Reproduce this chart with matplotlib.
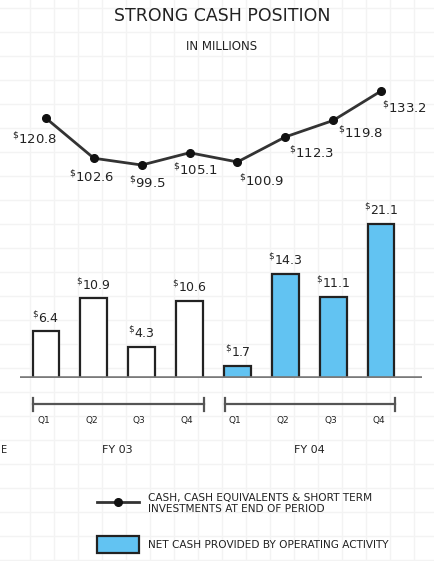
import numpy as np
import matplotlib.pyplot as plt

# values (millions of dollars)
quarters = ['Q1', 'Q2', 'Q3', 'Q4', 'Q1', 'Q2', 'Q3', 'Q4']
years = ['FY 03', 'FY 04']
cash_position = [120.8, 102.6, 99.5, 105.1, 100.9, 112.3, 119.8, 133.2]
operating_cash = [6.4, 10.9, 4.3, 10.6, 1.7, 14.3, 11.1, 21.1]
legend_labels = ['CASH, CASH EQUIVALENTS & SHORT TERM\nINVESTMENTS AT END OF PERIOD',
                 'NET CASH PROVIDED BY OPERATING ACTIVITY']

W, H = 435, 561
INK = '#222222'
BLUE = '#62c3f2'


def fx(px):
    return px / W


def fy(px):
    return 1 - px / H


def rect(left, top, right, bottom):
    return [fx(left), fy(bottom), fx(right) - fx(left), fy(top) - fy(bottom)]


fig = plt.figure(figsize=(W / 100, H / 100), dpi=100)
x = np.arange(len(quarters))
xlim = (-0.55, 7.85)

# graph paper background
bg = fig.add_axes([0, 0, 1, 1], zorder=-5)
bg.set_xlim(0, W)
bg.set_ylim(H, 0)
bg.set_xticks(np.arange(30, W, 24))
bg.set_yticks(np.arange(8, H, 24))
bg.grid(True, color='#f3f3f3', lw=1.0)
bg.tick_params(length=0, labelbottom=False, labelleft=False)
for s in bg.spines.values():
    s.set_visible(False)

fig.text(0.51, fy(16), 'STRONG CASH POSITION', ha='center', va='center',
         fontsize=12.5, color=INK)
fig.text(0.51, fy(47), 'IN MILLIONS', ha='center', va='center',
         fontsize=8.5, color=INK)

# line chart: cash position
ax_line = fig.add_axes(rect(19.7, 76.1, 421.7, 185.9))
ax_line.patch.set_visible(False)
line, = ax_line.plot(x, cash_position, color='#333333', lw=2,
                     marker='o', ms=5.5, mfc='#111111', mec='#111111')
ax_line.set_xlim(*xlim)
ax_line.set_ylim(90, 140)
ax_line.axis('off')

line_offsets = [(-12, -21), (-2, -19), (6, -18), (6, -17),
                (24, -19), (26, -16), (27, -13), (23, -17)]
for xi, v, (dx, dy) in zip(x, cash_position, line_offsets):
    ax_line.annotate(r'$^{\$}$' + f'{v:.1f}', (xi, v),
                     xytext=(dx * 0.72, dy * 0.72), textcoords='offset points',
                     ha='center', va='center', fontsize=9.5, color=INK)

# bar chart: operating cash
ax_bar = fig.add_axes(rect(19.7, 217.4, 421.7, 378))
ax_bar.patch.set_visible(False)
colors = ['white'] * 4 + [BLUE] * 4
bars = ax_bar.bar(x, operating_cash, width=0.56, color=colors,
                  edgecolor=INK, lw=1.6, zorder=2)
ax_bar.axhline(0, color='#7a7a7a', lw=2.6, zorder=3)
ax_bar.set_xlim(*xlim)
ax_bar.set_ylim(0, 22)
ax_bar.axis('off')
for b, v in zip(bars, operating_cash):
    ax_bar.annotate(r'$^{\$}$' + f'{v:.1f}', (b.get_x() + b.get_width() / 2, v),
                    xytext=(0, 4), textcoords='offset points',
                    ha='center', va='bottom', fontsize=9, color=INK)

# quarter / fiscal-year axis
ax_cat = fig.add_axes(rect(19.7, 395, 421.7, 465))
ax_cat.patch.set_visible(False)
ax_cat.set_xlim(*xlim)
ax_cat.set_ylim(465, 395)
ax_cat.axis('off')
for g, year in enumerate(years):
    x0, x1 = 4 * g - 0.27, 4 * g + 3.3
    ax_cat.plot([x0, x1], [404, 404], color='#555555', lw=1.6)
    ax_cat.plot([x0, x0], [398, 411], color='#555555', lw=1.6)
    ax_cat.plot([x1, x1], [398, 411], color='#555555', lw=1.6)
    ax_cat.text(4 * g + 1.5, 450, year, ha='center', va='center',
                fontsize=8, color=INK)
for xi, q in zip(x, quarters):
    ax_cat.text(xi - 0.05, 420, q, ha='center', va='center', fontsize=6.5, color=INK)

fig.text(fx(1), fy(450), 'E', ha='left', va='center', fontsize=7, color=INK)

fig.legend([line, bars[4]], legend_labels, loc='upper left',
           bbox_to_anchor=(fx(88), fy(483)), frameon=False, fontsize=7.6,
           numpoints=1, handlelength=3.9, handleheight=2.0,
           handletextpad=0.9, labelspacing=2.1, labelcolor=INK)

fig.savefig('out.png', dpi=100)
